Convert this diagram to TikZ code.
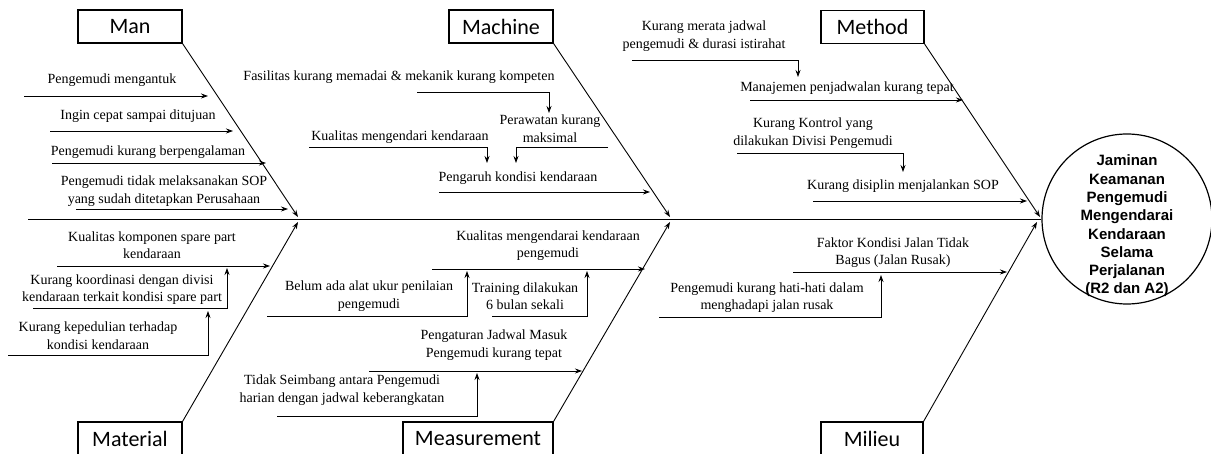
\documentclass[tikz,border=0pt]{standalone}
\usepackage{fontspec}
\setmainfont{Liberation Serif}
\newfontfamily\catfont{Carlito}
\newfontfamily\headfont{Liberation Sans}
\usetikzlibrary{arrows.meta}
\begin{document}
\begin{tikzpicture}[x=1pt,y=-1pt,
  lbl/.style={font=\fontsize{14}{17.5}\selectfont, align=center, inner sep=0pt},
  cat/.style={draw, line width=1.2pt, font=\catfont\fontsize{22}{24}\selectfont, minimum height=33pt, inner sep=0pt},
  arr/.style={line width=0.8pt, -{Stealth[length=7pt,width=5pt]}},
  bone/.style={line width=0.9pt, -{Stealth[length=7pt,width=5pt]}},
  ln/.style={line width=0.8pt}]
\useasboundingbox (0,0) rectangle (1211,454);
% head
\node[draw, circle, line width=1.2pt, minimum size=170pt, inner sep=0pt] (head) at (1127,219) {};
\node[font=\headfont\bfseries\fontsize{15}{18.3}\selectfont, align=center, inner sep=0pt] (headtxt) at (1127,226)
  {Jaminan\\Keamanan\\Pengemudi\\Mengendarai\\Kendaraan\\Selama\\Perjalanan\\(R2 dan A2)};
% spine
\coordinate (sp0) at (28,219);
\draw[line width=0.9pt] (sp0) -- (head.west);
% categories
\node[cat, minimum width=104pt] (man) at (130,26.5) {Man};
\node[cat, minimum width=104pt] (machine) at (501,26.5) {Machine};
\node[cat, minimum width=103pt] (method) at (872.5,27) {Method};
\node[cat, minimum width=104pt, minimum height=34pt] (material) at (130,439) {Material};
\node[cat, minimum width=150pt, minimum height=34pt] (measure) at (478,439) {Measurement};
\node[cat, minimum width=102pt, minimum height=34pt] (milieu) at (872,439) {Milieu};
% bones
\coordinate (manE) at (298,217);
\coordinate (machE) at (670,217);
\coordinate (methE) at (1040,217);
\coordinate (matE) at (298,222);
\coordinate (meaE) at (670,222);
\coordinate (milE) at (1037,222);
\draw[bone] (man.south east) -- (manE);
\draw[bone] (machine.south east) -- (machE);
\draw[bone] (method.south east) -- (methE);
\draw[bone] (material.north east) -- (matE);
\draw[bone] (measure.north east) -- (meaE);
\draw[bone] (milieu.north east) -- (milE);
% ---------- Man ----------
\node[lbl] (t1) at (112,80) {Pengemudi mengantuk};
\coordinate (a1s) at (24,96); \coordinate (a1e) at (208,96);
\draw[arr] (a1s) -- (a1e);
\node[lbl] (t2) at (138,116) {Ingin cepat sampai ditujuan};
\coordinate (a2s) at (50,131); \coordinate (a2e) at (233,131);
\draw[arr] (a2s) -- (a2e);
\node[lbl] (t3) at (148,152) {Pengemudi kurang berpengalaman};
\coordinate (a3s) at (52,163); \coordinate (a3e) at (266,163);
\draw[arr] (a3s) -- (a3e);
\node[lbl] (t4) at (164,191) {Pengemudi tidak melaksanakan SOP\\yang sudah ditetapkan Perusahaan};
\coordinate (a4s) at (76,209); \coordinate (a4e) at (288,209);
\draw[arr] (a4s) -- (a4e);
% ---------- Machine ----------
\node[lbl] (t5) at (399,77) {Fasilitas kurang memadai \& mekanik kurang kompeten};
\coordinate (a5s) at (417,92); \coordinate (a5e) at (549,113);
\draw[arr] (a5s) -| (a5e);
\node[lbl] (t6) at (550,128.5) {Perawatan kurang\\maksimal};
\coordinate (a6s) at (608,147); \coordinate (a6e) at (516,163);
\draw[arr] (a6s) -| (a6e);
\node[lbl] (t7) at (400,137) {Kualitas mengendari kendaraan};
\coordinate (a7s) at (309,147); \coordinate (a7e) at (487,163);
\draw[arr] (a7s) -| (a7e);
\node[lbl] (t8) at (518,178) {Pengaruh kondisi kendaraan};
\coordinate (a8s) at (439,192); \coordinate (a8e) at (650,192);
\draw[arr] (a8s) -- (a8e);
% ---------- Method ----------
\node[lbl] (t9) at (704,36) {Kurang merata jadwal\\pengemudi \& durasi istirahat};
\coordinate (a9s) at (632,60); \coordinate (a9e) at (798,77);
\draw[arr] (a9s) -| (a9e);
\node[lbl] (t10) at (847,88) {Manajemen penjadwalan kurang tepat};
\coordinate (a10s) at (750,100); \coordinate (a10e) at (963,100);
\draw[arr] (a10s) -- (a10e);
\node[lbl] (t11) at (813,133) {Kurang Kontrol yang\\dilakukan Divisi Pengemudi};
\coordinate (a11s) at (737,153); \coordinate (a11e) at (903,172);
\draw[arr] (a11s) -| (a11e);
\node[lbl] (t12) at (903,186) {Kurang disiplin menjalankan SOP};
\coordinate (a12s) at (813,201); \coordinate (a12e) at (1027,201);
\draw[arr] (a12s) -- (a12e);
% ---------- Material ----------
\node[lbl] (t13) at (152,245) {Kualitas komponen spare part\\kendaraan};
\coordinate (a13s) at (57,266); \coordinate (a13e) at (270,266);
\draw[arr] (a13s) -- (a13e);
\node[lbl] (t14) at (122,289.5) {Kurang koordinasi dengan divisi\\kendaraan terkait kondisi spare part};
\coordinate (a14s) at (33,308); \coordinate (a14e) at (227,268);
\draw[arr] (a14s) -| (a14e);
\node[lbl] (t15) at (98,335.5) {Kurang kepedulian terhadap\\kondisi kendaraan};
\coordinate (a15s) at (8,355); \coordinate (a15e) at (208,311);
\draw[arr] (a15s) -| (a15e);
% ---------- Measurement ----------
\node[lbl] (t16) at (548,245.5) {Kualitas mengendarai kendaraan\\pengemudi};
\coordinate (a16s) at (432,269); \coordinate (a16e) at (645,269);
\draw[arr] (a16s) -- (a16e);
\node[lbl] (t17) at (369,296) {Belum ada alat ukur penilaian\\pengemudi};
\coordinate (a17s) at (267,316); \coordinate (a17e) at (467,271);
\draw[arr] (a17s) -| (a17e);
\node[lbl] (t18) at (525,296) {Training dilakukan\\6 bulan sekali};
\coordinate (a18s) at (492,316); \coordinate (a18e) at (587,271);
\draw[arr] (a18s) -| (a18e);
\node[lbl] (t19) at (494,345) {Pengaturan Jadwal Masuk\\Pengemudi kurang tepat};
\coordinate (a19s) at (369,371); \coordinate (a19e) at (582,371);
\draw[arr] (a19s) -- (a19e);
\node[lbl] (t20) at (342,390) {Tidak Seimbang antara Pengemudi\\harian dengan jadwal keberangkatan};
\coordinate (a20s) at (277,416); \coordinate (a20e) at (477,373);
\draw[arr] (a20s) -| (a20e);
% ---------- Milieu ----------
\node[lbl] (t21) at (893,252.5) {Faktor Kondisi Jalan Tidak\\Bagus (Jalan Rusak)};
\coordinate (a21s) at (793,272); \coordinate (a21e) at (1007,272);
\draw[arr] (a21s) -- (a21e);
\node[lbl] (t22) at (767,297.5) {Pengemudi kurang hati-hati dalam\\menghadapi jalan rusak};
\coordinate (a22s) at (659,317); \coordinate (a22e) at (881,275);
\draw[arr] (a22s) -| (a22e);
\end{tikzpicture}
\end{document}
